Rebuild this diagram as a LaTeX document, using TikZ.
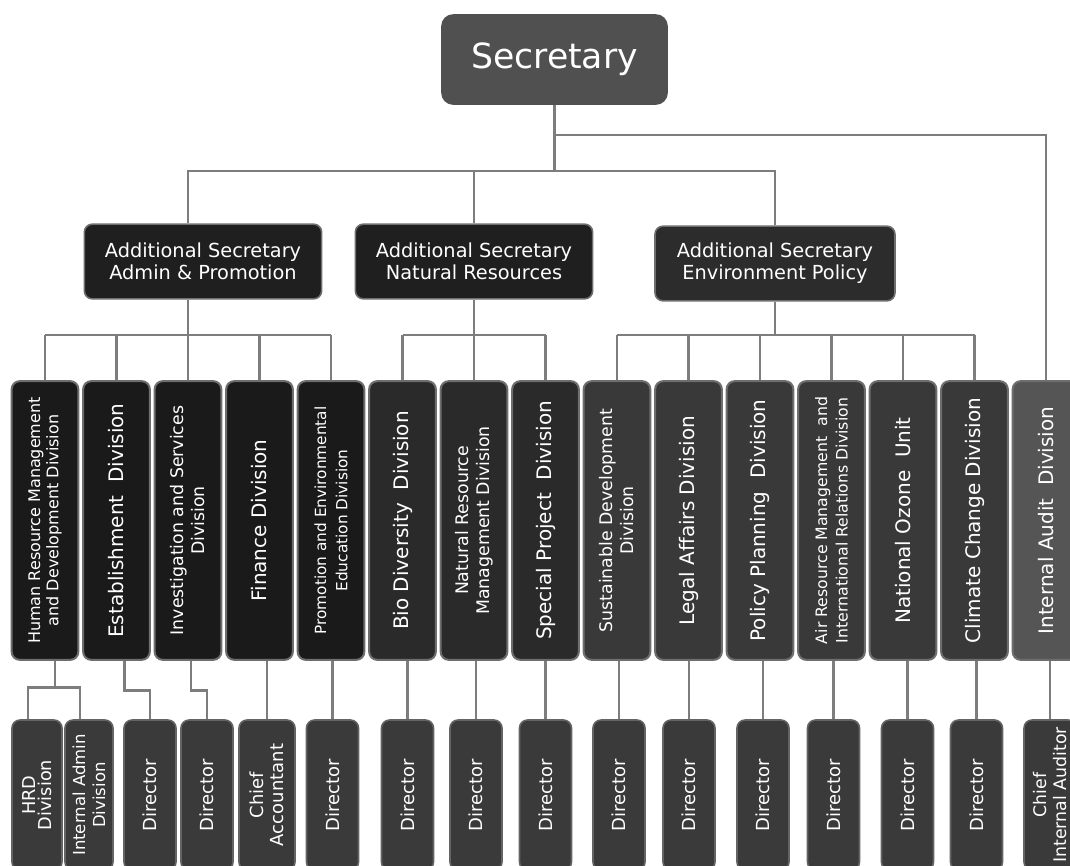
\documentclass[tikz,border=0pt]{standalone}
\usepackage{fontspec}
\setmainfont{DejaVu Sans}
\usetikzlibrary{calc}
\definecolor{TopGrey}{HTML}{505050}
\definecolor{AddGrey}{HTML}{1F1F1F}
\definecolor{AddEnvGrey}{HTML}{2C2C2C}
\definecolor{AdminGrey}{HTML}{1A1A1A}
\definecolor{NatGrey}{HTML}{2A2A2A}
\definecolor{EnvGrey}{HTML}{393939}
\definecolor{AuditGrey}{HTML}{555555}
\definecolor{LowGrey}{HTML}{3A3A3A}
\definecolor{EdgeGrey}{HTML}{6E6E6E}
\definecolor{WireGrey}{HTML}{7D7D7D}

\begin{document}
\begin{tikzpicture}[x=0.75pt, y=-0.75pt,
    conn/.style={draw=WireGrey, line width=2.2pt},
    topbox/.style={fill=TopGrey, rounded corners=9pt, text=white, minimum width=170pt, minimum height=68pt, font=\fontsize{26}{30}\selectfont},
    addbox/.style={fill=AddGrey, draw=EdgeGrey, line width=1.2pt, rounded corners=6pt, text=white, align=center, minimum width=178pt, minimum height=56pt, font=\fontsize{14.5}{16.5}\selectfont},
    divbox/.style={draw=EdgeGrey, line width=1.5pt, rounded corners=6pt, text=white, align=center, rotate=90, minimum width=209pt, minimum height=50pt, inner sep=1pt, font=\fontsize{15}{18}\selectfont},
    divtwo/.style={divbox, font=\fontsize{13}{15.75}\selectfont},
    divsmall/.style={divbox, font=\fontsize{11.8}{15.5}\selectfont},
    admin/.style={fill=AdminGrey},
    natres/.style={fill=NatGrey},
    envpol/.style={fill=EnvGrey},
    lowbox/.style={fill=LowGrey, draw=EdgeGrey!80!LowGrey, line width=1.2pt, rounded corners=6pt, text=white, align=center, rotate=90, minimum width=112.5pt, minimum height=39pt, inner sep=1pt, font=\fontsize{13.5}{15}\selectfont}
]
    \useasboundingbox (0,0) rectangle (1070,865);

    % Top
    \node[topbox] (sec) at (554.5,59.5) {Secretary};

    % Additional secretaries
    \node[addbox] (as1) at (203,261.5) {Additional Secretary\\Admin \& Promotion};
    \node[addbox] (as2) at (474,261.5) {Additional Secretary\\Natural Resources};
    \node[addbox, fill=AddEnvGrey, minimum width=180pt] (as3) at (775,263.5) {Additional Secretary\\Environment Policy};

    % Divisions under admin & promotion
    \node[divsmall, admin, font=\fontsize{12}{13.75}\selectfont] (d1) at (45,520.5) {Human Resource Management\\and Development Division};
    \node[divbox, admin] (d2) at (116.5,520.5) {Establishment\ \ Division};
    \node[divtwo, admin] (d3) at (188,520.5) {Investigation and Services\\Division};
    \node[divbox, admin] (d4) at (259.5,520.5) {Finance Division};
    \node[divsmall, admin, font=\fontsize{11.5}{16}\selectfont] (d5) at (331,520.5) {Promotion and Environmental\\Education Division};

    % Divisions under natural resources
    \node[divbox, natres] (d6) at (402.5,520.5) {Bio Diversity\ \ Division};
    \node[divtwo, natres] (d7) at (474,520.5) {Natural Resource\\Management Division};
    \node[divbox, natres] (d8) at (545.5,520.5) {Special Project\ \ Division};

    % Divisions under environment policy
    \node[divtwo, envpol] (d9) at (617,520.5) {Sustainable Development\\Division};
    \node[divbox, envpol] (d10) at (688.5,520.5) {Legal Affairs Division};
    \node[divbox, envpol] (d11) at (760,520.5) {Policy Planning\ \ Division};
    \node[divsmall, envpol] (d12) at (831.5,520.5) {Air Resource Management\ \ and\\International Relations Division};
    \node[divbox, envpol] (d13) at (903,520.5) {National Ozone\ \ Unit};
    \node[divbox, envpol] (d14) at (974.5,520.5) {Climate Change Division};

    % Audit
    \node[divbox, fill=AuditGrey] (d15) at (1046,520.5) {Internal Audit\ \ Division};

    % Bottom row
    \node[lowbox, minimum height=37.5pt, font=\fontsize{13.3}{12}\selectfont] (hrd) at (37,795) {HRD\\Division};
    \node[lowbox, minimum height=36pt, font=\fontsize{12.4}{15}\selectfont] (iadm) at (89,795) {Internal Admin\\Division};
    \node[lowbox] (dir2) at (150,795) {Director};
    \node[lowbox] (dir3) at (207,795) {Director};
    \node[lowbox, minimum height=42pt] (acc) at (267,795) {Chief\\Accountant};
    \node[lowbox] (dir5) at (332.5,795) {Director};
    \node[lowbox] (dir6) at (407.5,795) {Director};
    \node[lowbox] (dir7) at (476,795) {Director};
    \node[lowbox] (dir8) at (545.5,795) {Director};
    \node[lowbox] (dir9) at (619,795) {Director};
    \node[lowbox] (dir10) at (689,795) {Director};
    \node[lowbox] (dir11) at (763,795) {Director};
    \node[lowbox] (dir12) at (833.5,795) {Director};
    \node[lowbox] (dir13) at (907.5,795) {Director};
    \node[lowbox] (dir14) at (976.5,795) {Director};
    \node[lowbox, font=\fontsize{13}{15}\selectfont] (aud) at (1050,795) {Chief\\Internal Auditor};

    % Secretary links
    \draw[conn] (sec.south) -- (sec.south |- 0,171);
    \draw[conn] (d3.east |- as1.north) -- (d3.east |- 0,171) -- (as3.north |- 0,171) -- (as3.north);
    \draw[conn] (as2.north) -- (as2.north |- 0,171);
    \draw[conn] (sec.south |- 0,135) -- (d15.east |- 0,135) -- (d15.east);

    % Additional secretary links
    \draw[conn] (d3.east |- as1.south) -- (d3.east);
    \draw[conn] (d1.east |- 0,335) -- (d5.east |- 0,335);
    \foreach \d in {d1,d2,d4,d5}
        \draw[conn] (\d.east) -- (\d.east |- 0,335);
    \draw[conn] (d7.east |- as2.south) -- (d7.east);
    \draw[conn] (d6.east |- 0,335) -- (d8.east |- 0,335);
    \foreach \d in {d6,d8}
        \draw[conn] (\d.east) -- (\d.east |- 0,335);
    \draw[conn] (as3.south) -- (as3.south |- 0,335);
    \draw[conn] (d9.east |- 0,335) -- (d14.east |- 0,335);
    \foreach \d in {d9,d10,d11,d12,d13,d14}
        \draw[conn] (\d.east) -- (\d.east |- 0,335);

    % Division links
    \coordinate (hrfork) at ($(d1.west)+(10,27)$);
    \draw[conn] ($(d1.west)+(10,0)$) -- (hrfork);
    \draw[conn] ($(hrd.east)+(-9,0)$) |- (hrfork) -| ($(iadm.east)+(-9,0)$);
    \draw[conn] ($(d2.west)+(8,0)$) -- ++(0,30) -| (dir2.east);
    \draw[conn] ($(d3.west)+(3,0)$) -- ++(0,30) -| (dir3.east);
    \foreach \d/\b in {d4/acc,d5/dir5,d6/dir6,d7/dir7,d8/dir8,d9/dir9,d10/dir10,d11/dir11,d12/dir12,d13/dir13,d14/dir14,d15/aud}
        \draw[conn] (\b.east |- \d.west) -- (\b.east);

\end{tikzpicture}
\end{document}
